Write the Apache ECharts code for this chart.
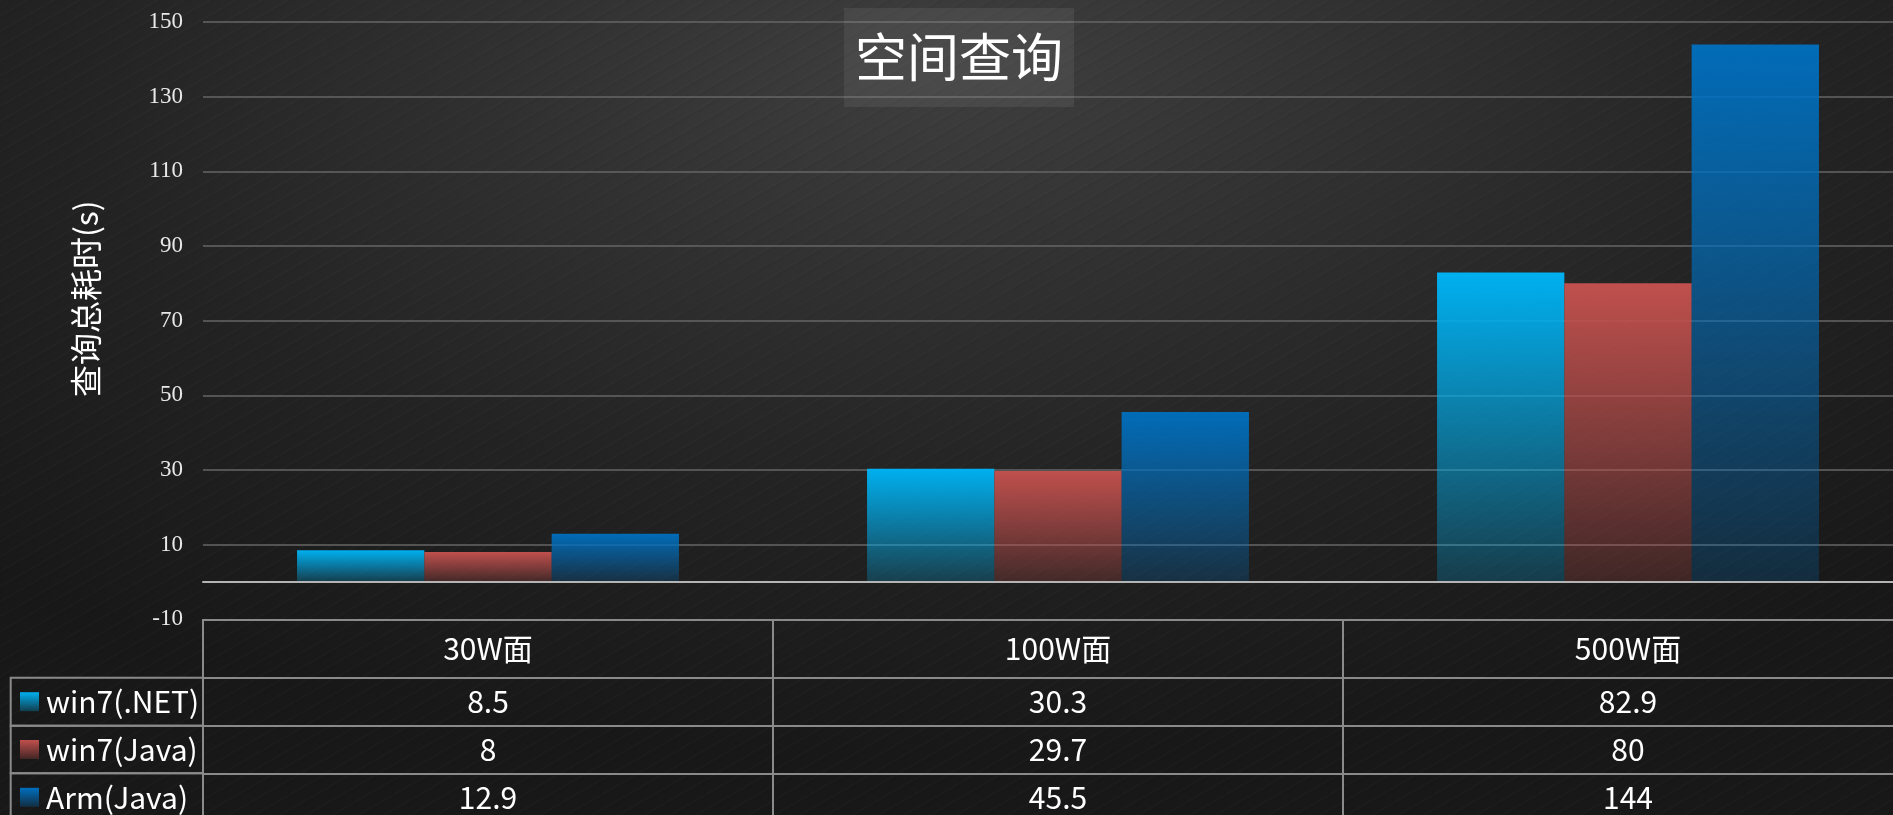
<!DOCTYPE html>
<html>
<head>
<meta charset="utf-8">
<script src="https://cdn.jsdelivr.net/npm/echarts@6/dist/echarts.min.js"></script>
<style>
html,body{margin:0;padding:0;width:1893px;height:815px;overflow:hidden;}
body{
  background:
    repeating-linear-gradient(150deg, rgba(255,255,255,0.012) 0px, rgba(255,255,255,0.012) 2px, rgba(0,0,0,0.03) 2px, rgba(0,0,0,0.03) 5px, rgba(0,0,0,0) 5px, rgba(0,0,0,0) 13px),
    radial-gradient(ellipse 75% 85% at 50% 8%, #3f3f3f 0%, #313131 30%, #232323 62%, #181818 100%);
}
#chart{width:1893px;height:815px;}
</style>
</head>
<body>
<div id="chart"></div>
<script>
// ---- data ----
const categories = ['30W面', '100W面', '500W面'];
const seriesNames = ['win7(.NET)', 'win7(Java)', 'Arm(Java)'];
const netValues = [8.5, 30.3, 82.9];
const javaValues = [8, 29.7, 80];
const armValues = [12.9, 45.5, 144];
const yMin = -10, yMax = 150, yInterval = 20;
const titleText = '空间查询';
const yAxisName = '查询总耗时(s)';

// ---- styles / layout ----
const seriesValues = [netValues, javaValues, armValues];
const seriesRGB = [[0, 176, 240], [192, 80, 77], [0, 112, 192]];
const W = 1893, H = 815;
const gridLeft = 203, gridTop = 22, gridBottomY = 619.3, gridWidth = 1710;
const headerH = 58.4;
const rowHs = [48, 47.6, 48];
const tableLeft = 10.7;
const lineCol = '#8a8a8a';
const cjk = '"Noto Sans CJK SC", "Noto Sans", sans-serif';

function grad(rgb, a0, a1) {
  return {
    type: 'linear', x: 0, y: 0, x2: 0, y2: 1,
    colorStops: [
      {offset: 0, color: `rgba(${rgb[0]},${rgb[1]},${rgb[2]},${a0})`},
      {offset: 1, color: `rgba(${rgb[0]},${rgb[1]},${rgb[2]},${a1})`}
    ]
  };
}

const chart = echarts.init(document.getElementById('chart'), null, {renderer: 'canvas'});

const xAxes = [{
  type: 'category', data: categories, gridIndex: 0,
  axisLine: {onZero: true, lineStyle: {color: '#b4b4b4', width: 2}},
  axisTick: {show: false}, axisLabel: {show: false}, splitLine: {show: false}, z: 5
}, {
  type: 'category', data: categories, position: 'bottom', offset: 0,
  axisLine: {onZero: false, lineStyle: {color: lineCol, width: 2}},
  axisTick: {show: true, interval: 0, length: headerH, lineStyle: {color: lineCol, width: 2}},
  axisLabel: {interval: 0, color: '#ffffff', fontSize: 30, fontFamily: cjk, margin: headerH / 2, verticalAlign: 'middle'}
}];
let off = headerH;
seriesValues.forEach((vals, i) => {
  xAxes.push({
    type: 'category', data: vals.map(v => String(v)), position: 'bottom', offset: off,
    axisLine: {onZero: false, lineStyle: {color: lineCol, width: 2}},
    axisTick: {show: true, interval: 0, length: rowHs[i], lineStyle: {color: lineCol, width: 2}},
    axisLabel: {interval: 0, color: '#ffffff', fontSize: 30, fontFamily: cjk, margin: rowHs[i] / 2, verticalAlign: 'middle'}
  });
  off += rowHs[i];
});

// left legend column of the table
const graphics = [];
let rowTop = gridBottomY + headerH;
seriesNames.forEach((name, i) => {
  graphics.push({
    type: 'rect', shape: {x: tableLeft, y: rowTop, width: gridLeft - tableLeft, height: rowHs[i]},
    style: {fill: 'none', stroke: lineCol, lineWidth: 2}, z: 10
  });
  graphics.push({
    type: 'rect', shape: {x: 20, y: rowTop + rowHs[i] / 2 - 9.5, width: 19, height: 19},
    style: {fill: grad(seriesRGB[i], 1, 0.25)}, z: 10
  });
  graphics.push({
    type: 'text', x: 46, y: rowTop + rowHs[i] / 2,
    style: {text: name, fill: '#ffffff', fontSize: 30, fontFamily: cjk, textVerticalAlign: 'middle', verticalAlign: 'middle'}, z: 10
  });
  rowTop += rowHs[i];
});

const option = {
  backgroundColor: 'transparent',
  animation: false,
  title: {
    text: titleText, left: 844, top: 8,
    backgroundColor: 'rgba(255,255,255,0.065)', padding: [21, 11],
    textStyle: {color: '#ffffff', fontSize: 52, fontWeight: 'normal', fontFamily: cjk, lineHeight: 57}
  },
  grid: {left: gridLeft, width: gridWidth, top: gridTop, bottom: H - gridBottomY, containLabel: false, outerBoundsMode: 'none'},
  xAxis: xAxes,
  yAxis: {
    type: 'value', min: yMin, max: yMax, interval: yInterval,
    name: yAxisName, nameLocation: 'middle', nameRotate: 90, nameGap: 101,
    nameTextStyle: {color: '#ffffff', fontSize: 32, fontFamily: cjk, padding: [0, 0, 0, 44]},
    axisLine: {show: false}, axisTick: {show: false},
    axisLabel: {color: '#e8e8e8', fontSize: 23, fontFamily: '"Liberation Serif", "Times New Roman", serif', margin: 20},
    splitLine: {lineStyle: {color: '#666666', width: 1.5}}
  },
  series: seriesValues.map((vals, i) => ({
    name: seriesNames[i], type: 'bar', data: vals,
    xAxisIndex: 0, yAxisIndex: 0,
    barGap: '0%', barCategoryGap: '33%',
    itemStyle: {color: grad(seriesRGB[i], i === 2 ? 0.95 : 1, 0.22)}
  })),
  graphic: graphics
};
chart.setOption(option);
</script>
</body>
</html>
